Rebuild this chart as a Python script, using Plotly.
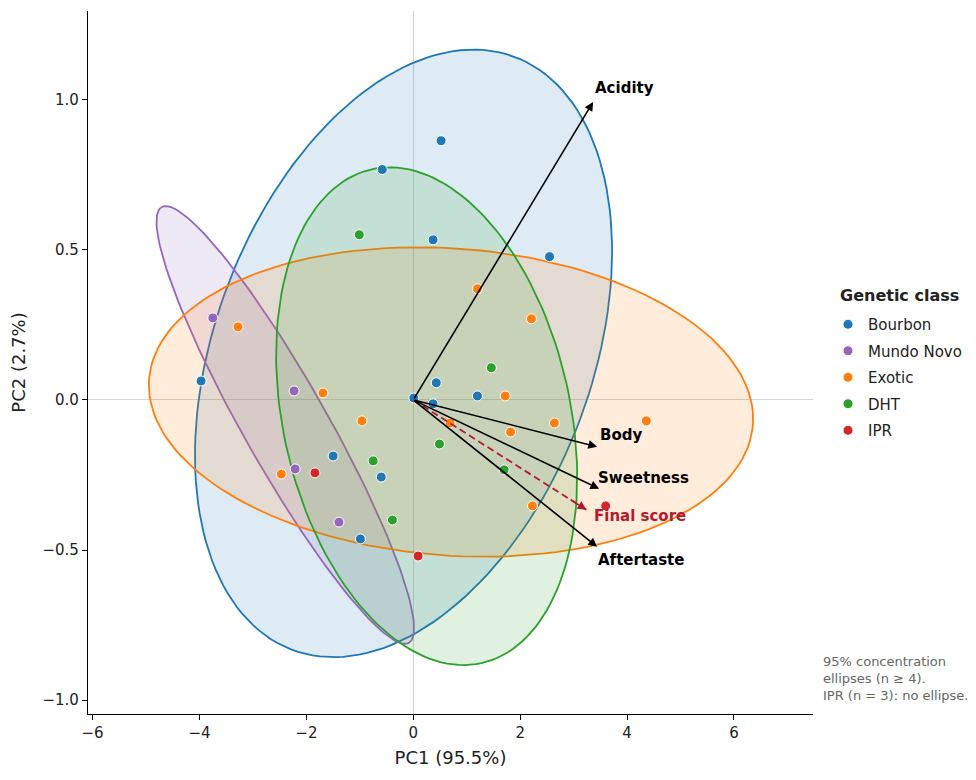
import numpy as np
import plotly.graph_objects as go

# ---------------- data ----------------
classes = ["Bourbon", "Mundo Novo", "Exotic", "DHT", "IPR"]

bourbon_pc1 = [0.52, -0.58, 0.37, 2.55, -3.97, 0.43, 1.20, 0.01, 0.37, -1.50, -0.60, -0.99]
bourbon_pc2 = [0.863, 0.767, 0.533, 0.477, 0.063, 0.057, 0.013, 0.006, -0.013, -0.187, -0.257, -0.463]

mundo_pc1 = [-3.75, -2.23, -2.21, -1.39]
mundo_pc2 = [0.273, 0.030, -0.230, -0.407]

exotic_pc1 = [-3.28, -1.69, -0.96, -2.47, 1.20, 2.21, 1.72, 2.64, 1.82, 0.69, 4.36, 2.23]
exotic_pc2 = [0.243, 0.023, -0.070, -0.247, 0.370, 0.270, 0.013, -0.077, -0.107, -0.077, -0.070, -0.353]

dht_pc1 = [-1.01, 1.46, 0.49, -0.75, 1.70, -0.39]
dht_pc2 = [0.550, 0.107, -0.147, -0.203, -0.233, -0.400]

ipr_pc1 = [-1.84, 0.09, 3.60]
ipr_pc2 = [-0.243, -0.520, -0.353]

loading_names = ["Acidity", "Body", "Sweetness", "Aftertaste"]
loading_pc1 = [3.365, 3.44, 3.478, 3.44]
loading_pc2 = [0.992, -0.156, -0.296, -0.489]

final_score_name = "Final score"
final_score_pc1 = 3.24
final_score_pc2 = -0.366

x_ticks = [-6, -4, -2, 0, 2, 4, 6]
y_ticks = [-1.0, -0.5, 0.0, 0.5, 1.0]

# ---------------- styles ----------------
colors = {"Bourbon": "#1f77b4", "Mundo Novo": "#9467bd", "Exotic": "#ff7f0e",
          "DHT": "#2ca02c", "IPR": "#d62728"}
series = {
    "Bourbon": (bourbon_pc1, bourbon_pc2),
    "Mundo Novo": (mundo_pc1, mundo_pc2),
    "Exotic": (exotic_pc1, exotic_pc2),
    "DHT": (dht_pc1, dht_pc2),
    "IPR": (ipr_pc1, ipr_pc2),
}
label_shift = {"Acidity": (0, 14), "Body": (1, 12), "Sweetness": (-3, 11),
               "Aftertaste": (-1, -13), "Final score": (6, -6)}
crimson = "#b5192f"
font_family = "DejaVu Sans"


def hex_rgba(h, a):
    h = h.lstrip("#")
    return "rgba(%d,%d,%d,%.2f)" % (int(h[0:2], 16), int(h[2:4], 16), int(h[4:6], 16), a)


def conf_ellipse(x, y, chi2=5.991, n=160):
    x = np.asarray(x, float)
    y = np.asarray(y, float)
    cov = np.cov(x, y)
    vals, vecs = np.linalg.eigh(cov)
    t = np.linspace(0, 2 * np.pi, n)
    circ = np.vstack([np.cos(t), np.sin(t)])
    pts = vecs @ (np.sqrt(chi2 * vals)[:, None] * circ)
    return x.mean() + pts[0], y.mean() + pts[1]


fig = go.Figure()

# ellipses (n >= 4)
for c in classes:
    xs, ys = series[c]
    if len(xs) < 4:
        continue
    ex, ey = conf_ellipse(xs, ys)
    fig.add_trace(go.Scatter(x=ex, y=ey, mode="lines", fill="toself",
                             fillcolor=hex_rgba(colors[c], 0.15),
                             line=dict(color=colors[c], width=1.8),
                             hoverinfo="skip", showlegend=False))

# points
for c in classes:
    xs, ys = series[c]
    fig.add_trace(go.Scatter(x=xs, y=ys, mode="markers", name=c, legendgroup=c,
                             marker=dict(color=colors[c], size=10,
                                         line=dict(color="white", width=1))))

# final score dashed line
fig.add_trace(go.Scatter(x=[0, final_score_pc1], y=[0, final_score_pc2], mode="lines",
                         line=dict(color=crimson, width=1.8, dash="7px,4px"),
                         hoverinfo="skip", showlegend=False))

annotations = []
for name, lx, ly in zip(loading_names, loading_pc1, loading_pc2):
    annotations.append(dict(x=lx, y=ly, ax=0, ay=0, xref="x", yref="y", axref="x", ayref="y",
                            showarrow=True, arrowhead=2, arrowsize=1.1, arrowwidth=1.6,
                            arrowcolor="black", text=""))
    sx, sy = label_shift[name]
    annotations.append(dict(x=lx, y=ly, xref="x", yref="y", showarrow=False,
                            text="<b>%s</b>" % name, xanchor="left", yanchor="middle",
                            xshift=sx, yshift=sy,
                            font=dict(family=font_family, size=15, color="black")))

annotations.append(dict(x=final_score_pc1, y=final_score_pc2,
                        ax=final_score_pc1 * 0.9, ay=final_score_pc2 * 0.9,
                        xref="x", yref="y", axref="x", ayref="y",
                        showarrow=True, arrowhead=2, arrowsize=1.1, arrowwidth=1.6,
                        arrowcolor=crimson, text=""))
sx, sy = label_shift[final_score_name]
annotations.append(dict(x=final_score_pc1, y=final_score_pc2, xref="x", yref="y",
                        showarrow=False, text="<b>%s</b>" % final_score_name,
                        xanchor="left", yanchor="middle", xshift=sx, yshift=sy,
                        font=dict(family=font_family, size=15, color=crimson)))

# legend title
annotations.append(dict(x=1.0345, y=0.596, xref="paper", yref="paper", xanchor="left",
                        yanchor="middle", showarrow=False, text="<b>Genetic class</b>",
                        font=dict(family=font_family, size=16, color="#222222")))

annotations.append(dict(x=1.011, y=0.088, xref="paper", yref="paper", xanchor="left",
                        yanchor="top", align="left", showarrow=False,
                        text="95% concentration<br>ellipses (n ≥ 4).<br>IPR (n = 3): no ellipse.",
                        font=dict(family=font_family, size=13, color="#666666")))

axis_common = dict(showgrid=False, zeroline=True, zerolinecolor="#d4d4d4", zerolinewidth=1,
                   showline=True, linecolor="black", linewidth=1.3, mirror=False,
                   ticks="outside", ticklen=5, tickwidth=1.2, tickcolor="black",
                   tickfont=dict(family=font_family, size=15, color="#222222"))

fig.update_layout(
    width=976, height=780,
    margin=dict(l=88, r=163, t=11, b=66, autoexpand=False),
    plot_bgcolor="white", paper_bgcolor="white",
    font=dict(family=font_family, size=15, color="#222222"),
    xaxis=dict(range=[-6.086, 7.479], tickvals=x_ticks,
               title=dict(text="PC1 (95.5%)", font=dict(size=18), standoff=10),
               **axis_common),
    yaxis=dict(range=[-1.046, 1.295], tickvals=y_ticks, tickformat=".1f",
               title=dict(text="PC2 (2.7%)", font=dict(size=18), standoff=12),
               **axis_common),
    legend=dict(x=1.0207, xanchor="left", y=0.5775, yanchor="top",
                tracegroupgap=4,
                font=dict(size=15), bgcolor="rgba(0,0,0,0)"),
    annotations=annotations,
    showlegend=True,
)

fig.write_html("out.html")
